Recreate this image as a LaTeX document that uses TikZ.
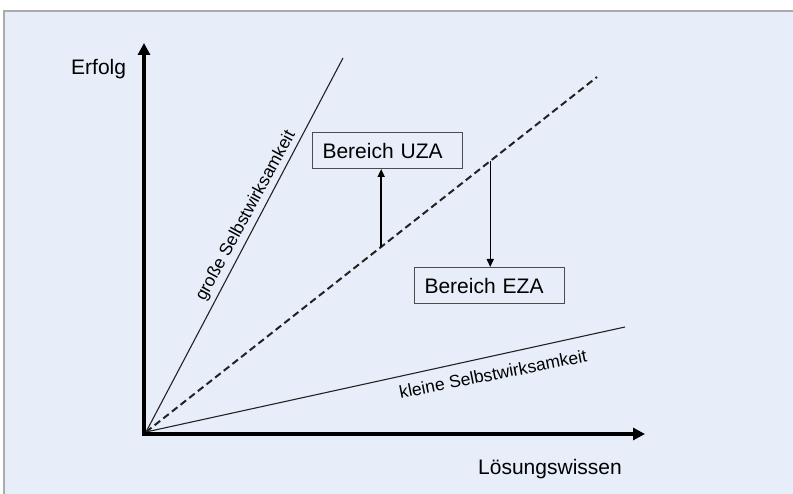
\documentclass[tikz,border=0pt]{standalone}
\usepackage{fontspec}
\setmainfont{Liberation Sans}
\usetikzlibrary{arrows.meta,calc}
\definecolor{bgblue}{HTML}{E8EEF9}
\definecolor{framegrey}{HTML}{ABABAB}
\definecolor{linegrey}{HTML}{222222}
\tikzset{
  axis/.style={line width=4pt, black, line cap=rect, -{Triangle[length=12pt 0 0,width=12pt 0 0]}},
  thinline/.style={line width=1.1pt, linegrey},
  dashline/.style={line width=2pt, linegrey, dash pattern=on 7pt off 4pt},
  smallarrow/.style={line width=1.5pt, black, -{Triangle[length=8pt 0 0,width=7pt 0 0]}},
  boxnode/.style={draw=black!70, line width=1pt, fill=bgblue, anchor=north west,
    minimum width=150pt, minimum height=36pt, text width=130pt, inner xsep=10pt,
    align=left, font=\fontsize{21}{25}\selectfont},
  bigtext/.style={font=\fontsize{21}{25}\selectfont, inner sep=0pt},
  slanttext/.style={font=\fontsize{17.5}{20}\selectfont, inner sep=0pt}
}
\begin{document}
\begin{tikzpicture}[x=1pt,y=-1pt]
\useasboundingbox (0,0) rectangle (793,494);
\fill[white] (0,0) rectangle (793,494);
\fill[bgblue] (4,11) rectangle (793,494);
\draw[framegrey, line width=1.5pt] (793,11) -- (4,11) -- (4,494);

\coordinate (O) at (144,434);
\coordinate (S) at (146,432);
\coordinate (ytip) at (144,43);
\coordinate (xtip) at (645,434);
\coordinate (steep) at (343,58);
\coordinate (mid) at (597,77);
\coordinate (flat) at (625,327);

% lines
\draw[thinline] (S) -- (steep);
\draw[thinline] (S) -- (flat);
\draw[dashline] (S) -- (mid);

% axes
\draw[axis] (O) -- (ytip);
\draw[axis] (O) -- (xtip);

% axis labels
\node[bigtext, anchor=base west] (erfolg) at (71,75) {Erfolg};
\node[bigtext, anchor=base east] (loesung) at (622,474) {Lösungswissen};

% slanted labels
\node[slanttext, rotate=61.5] (gross) at (246,216) {große Selbstwirksamkeit};
\node[slanttext, rotate=11.2] (klein) at (493,374) {kleine Selbstwirksamkeit};

% boxes
\node[boxnode] (uza) at (312,132) {Bereich UZA};
\node[boxnode] (eza) at (414,267) {Bereich EZA};

% arrows from dashed line
\coordinate (p1) at ($(S)!0.5215!(mid)$);
\coordinate (p2) at ($(S)!0.7633!(mid)$);
\draw[smallarrow] (p1) -- (p1 |- uza.south);
\draw[smallarrow] (p2) -- (p2 |- eza.north);
\end{tikzpicture}
\end{document}
